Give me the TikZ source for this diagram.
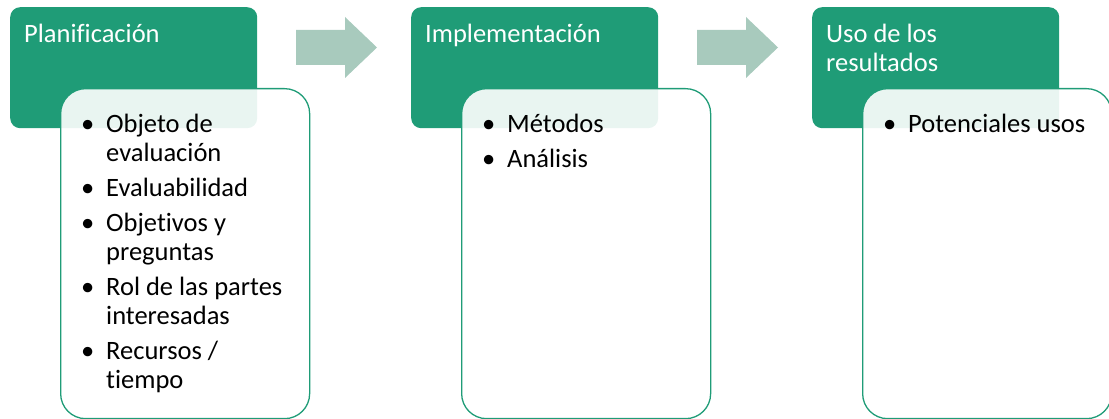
\documentclass[tikz,border=0pt]{standalone}
\usepackage{fontspec}
\setmainfont{Carlito}[Ligatures=NoCommon]
\definecolor{stagegreen}{RGB}{31,156,119}
\definecolor{arrowgreen}{RGB}{168,202,189}
\newcommand{\stagebullet}{\makebox[16pt]{\textbullet}}

\begin{document}
\begin{tikzpicture}
  [x=1pt, y=-1pt,
   stage/.style={fill=stagegreen, rounded corners=10pt, minimum width=247pt,
     minimum height=121pt, anchor=north west, inner sep=0pt},
   detail/.style={draw=stagegreen, line width=1.3pt, fill=white, fill opacity=0.9,
     rounded corners=25pt, minimum width=249pt, minimum height=330pt,
     anchor=north west, inner sep=0pt},
   title/.style={anchor=base west, inner sep=0pt, text=white,
     font=\fontsize{26.5}{29}\selectfont},
   items/.style={anchor=base west, inner sep=0pt, font=\fontsize{26.5}{29}\selectfont},
   flow/.style={fill=arrowgreen}]
  \useasboundingbox (0,0) rectangle (1109,419);
  \clip (0,0) rectangle (1109,419);

  % stage headers
  \node[stage] (plan) at (10,7) {};
  \node[stage] (impl) at (411,7) {};
  \node[stage] (uso) at (812,7) {};
  \node[title] (plantitle) at (24,43) {\begin{tabular}[t]{@{}l@{}}Planificación\end{tabular}};
  \node[title] (impltitle) at (425,43) {\begin{tabular}[t]{@{}l@{}}Implementación\end{tabular}};
  \node[title] (usotitle) at (826,43) {\begin{tabular}[t]{@{}l@{}}Uso de los\\ resultados\end{tabular}};

  % arrows between stages
  \foreach \dx in {296,697}
    \fill[flow, shift={(\dx,0)}] (0,30) -- (49,30) -- (49,17) -- (81,47.5)
      -- (49,78) -- (49,65) -- (0,65) -- cycle;

  % detail boxes
  \node[detail] (plandet) at (60,88) {};
  \node[detail] (impldet) at (461,88) {};
  \node[detail] (usodet) at (862,88) {};

  \node[items] (planitems) at (79.5,133) {\begin{tabular}[t]{@{}l@{\hspace{10.5pt}}l@{}}
    \stagebullet & Objeto de\\ & evaluación\\[6pt]
    \stagebullet & Evaluabilidad\\[6pt]
    \stagebullet & Objetivos y\\ & preguntas\\[6pt]
    \stagebullet & Rol de las partes\\ & interesadas\\[6pt]
    \stagebullet & Recursos /\\ & tiempo
  \end{tabular}};
  \node[items] (implitems) at (480.5,133) {\begin{tabular}[t]{@{}l@{\hspace{10.5pt}}l@{}}
    \stagebullet & Métodos\\[6pt]
    \stagebullet & Análisis
  \end{tabular}};
  \node[items] (usoitems) at (881.5,133) {\begin{tabular}[t]{@{}l@{\hspace{10.5pt}}l@{}}
    \stagebullet & Potenciales usos
  \end{tabular}};
\end{tikzpicture}
\end{document}
